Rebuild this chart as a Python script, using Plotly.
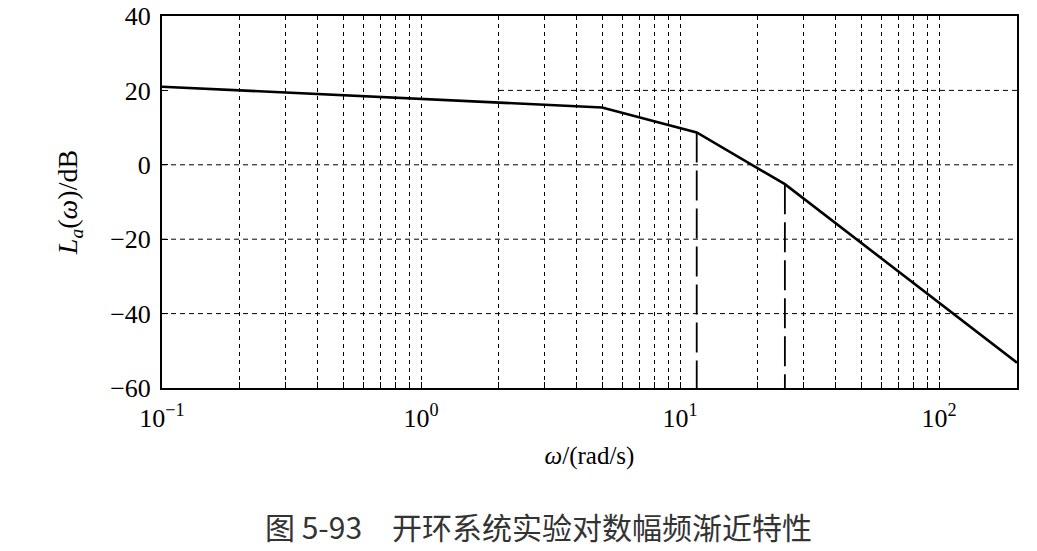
import numpy as np
import plotly.graph_objects as go

# Data
omega = [0.1, 5, 11.6, 25.4, 200]
La = [21.0, 15.4, 8.7, -5.2, -53.2]

# dashed drop lines at the corner frequencies
drop_w = [11.6, 25.4]
drop_top = [8.7, -5.2]

# partial horizontal reference line at 20 dB
ref_w = [2, 200]
ref_L = [20, 20]

y_ticks = [-60, -40, -20, 0, 20, 40]
y_labels = ["−60", "−40", "−20", "0", "20", "40"]
x_major = [0.1, 1, 10, 100]
x_major_labels = ["10<sup>−1</sup>", "10<sup>0</sup>", "10<sup>1</sup>", "10<sup>2</sup>"]

x_ticks = []
x_labels = []
for dec in [0.1, 1, 10, 100]:
    for m in range(1, 10):
        v = round(dec * m, 6)
        if v > 200:
            break
        x_ticks.append(v)
        x_labels.append(x_major_labels[x_major.index(dec)] if m == 1 else "")
x_ticks.append(200)
x_labels.append("")

serif = "Liberation Serif, Times New Roman, serif"

fig = go.Figure()

# horizontal grid lines (full width) except 20 dB
for yv in [-40, -20, 0]:
    fig.add_shape(type="line", xref="paper", x0=0, x1=1, yref="y", y0=yv, y1=yv,
                  line=dict(color="black", width=1, dash="5px,4px"), layer="below")

fig.add_trace(go.Scatter(x=ref_w, y=ref_L, mode="lines",
                         line=dict(color="black", width=1, dash="5px,4px"),
                         showlegend=False, hoverinfo="skip"))

for w, top in zip(drop_w, drop_top):
    fig.add_trace(go.Scatter(x=[w, w], y=[top, -60], mode="lines",
                             line=dict(color="black", width=1.8, dash="30px,8px"),
                             showlegend=False, hoverinfo="skip"))

fig.add_trace(go.Scatter(x=omega, y=La, mode="lines",
                         line=dict(color="black", width=2.6),
                         showlegend=False))

fig.update_xaxes(type="log", range=[-1, np.log10(200)], automargin=False,
                 tickvals=x_ticks, ticktext=x_labels,
                 ticks="inside", ticklen=6, tickwidth=1, tickcolor="black",
                 ticklabelstandoff=6,
                 showgrid=True, gridcolor="black", gridwidth=1, griddash="4px,4px",
                 showline=True, linecolor="black", linewidth=2, mirror=True,
                 zeroline=False,
                 tickfont=dict(family=serif, size=26, color="black"),
                 title=dict(text="<i>ω</i>/(rad/s)", font=dict(family=serif, size=25, color="black"),
                            standoff=14))
fig.update_yaxes(range=[-60, 40], tickvals=y_ticks, ticktext=y_labels, automargin=False,
                 ticks="inside", ticklen=6, tickwidth=1, tickcolor="black",
                 ticklabelstandoff=4,
                 showgrid=False, zeroline=False,
                 showline=True, linecolor="black", linewidth=2, mirror=True,
                 tickfont=dict(family=serif, size=26, color="black"),
                 title=dict(text="<i>L<sub>a</sub></i>(<i>ω</i>)/dB",
                            font=dict(family=serif, size=28, color="black"), standoff=24))

fig.add_annotation(xref="paper", yref="paper", x=0.44, y=-0.37,
                   text="图 5-93　开环系统实验对数幅频渐近特性", showarrow=False,
                   xanchor="center", yanchor="middle",
                   font=dict(family="Noto Sans CJK SC", size=30, color="#333333"))

fig.update_layout(width=1037, height=551, plot_bgcolor="white", paper_bgcolor="white",
                  margin=dict(l=162, r=20, t=16, b=163, autoexpand=False))

fig.write_html("out.html")
